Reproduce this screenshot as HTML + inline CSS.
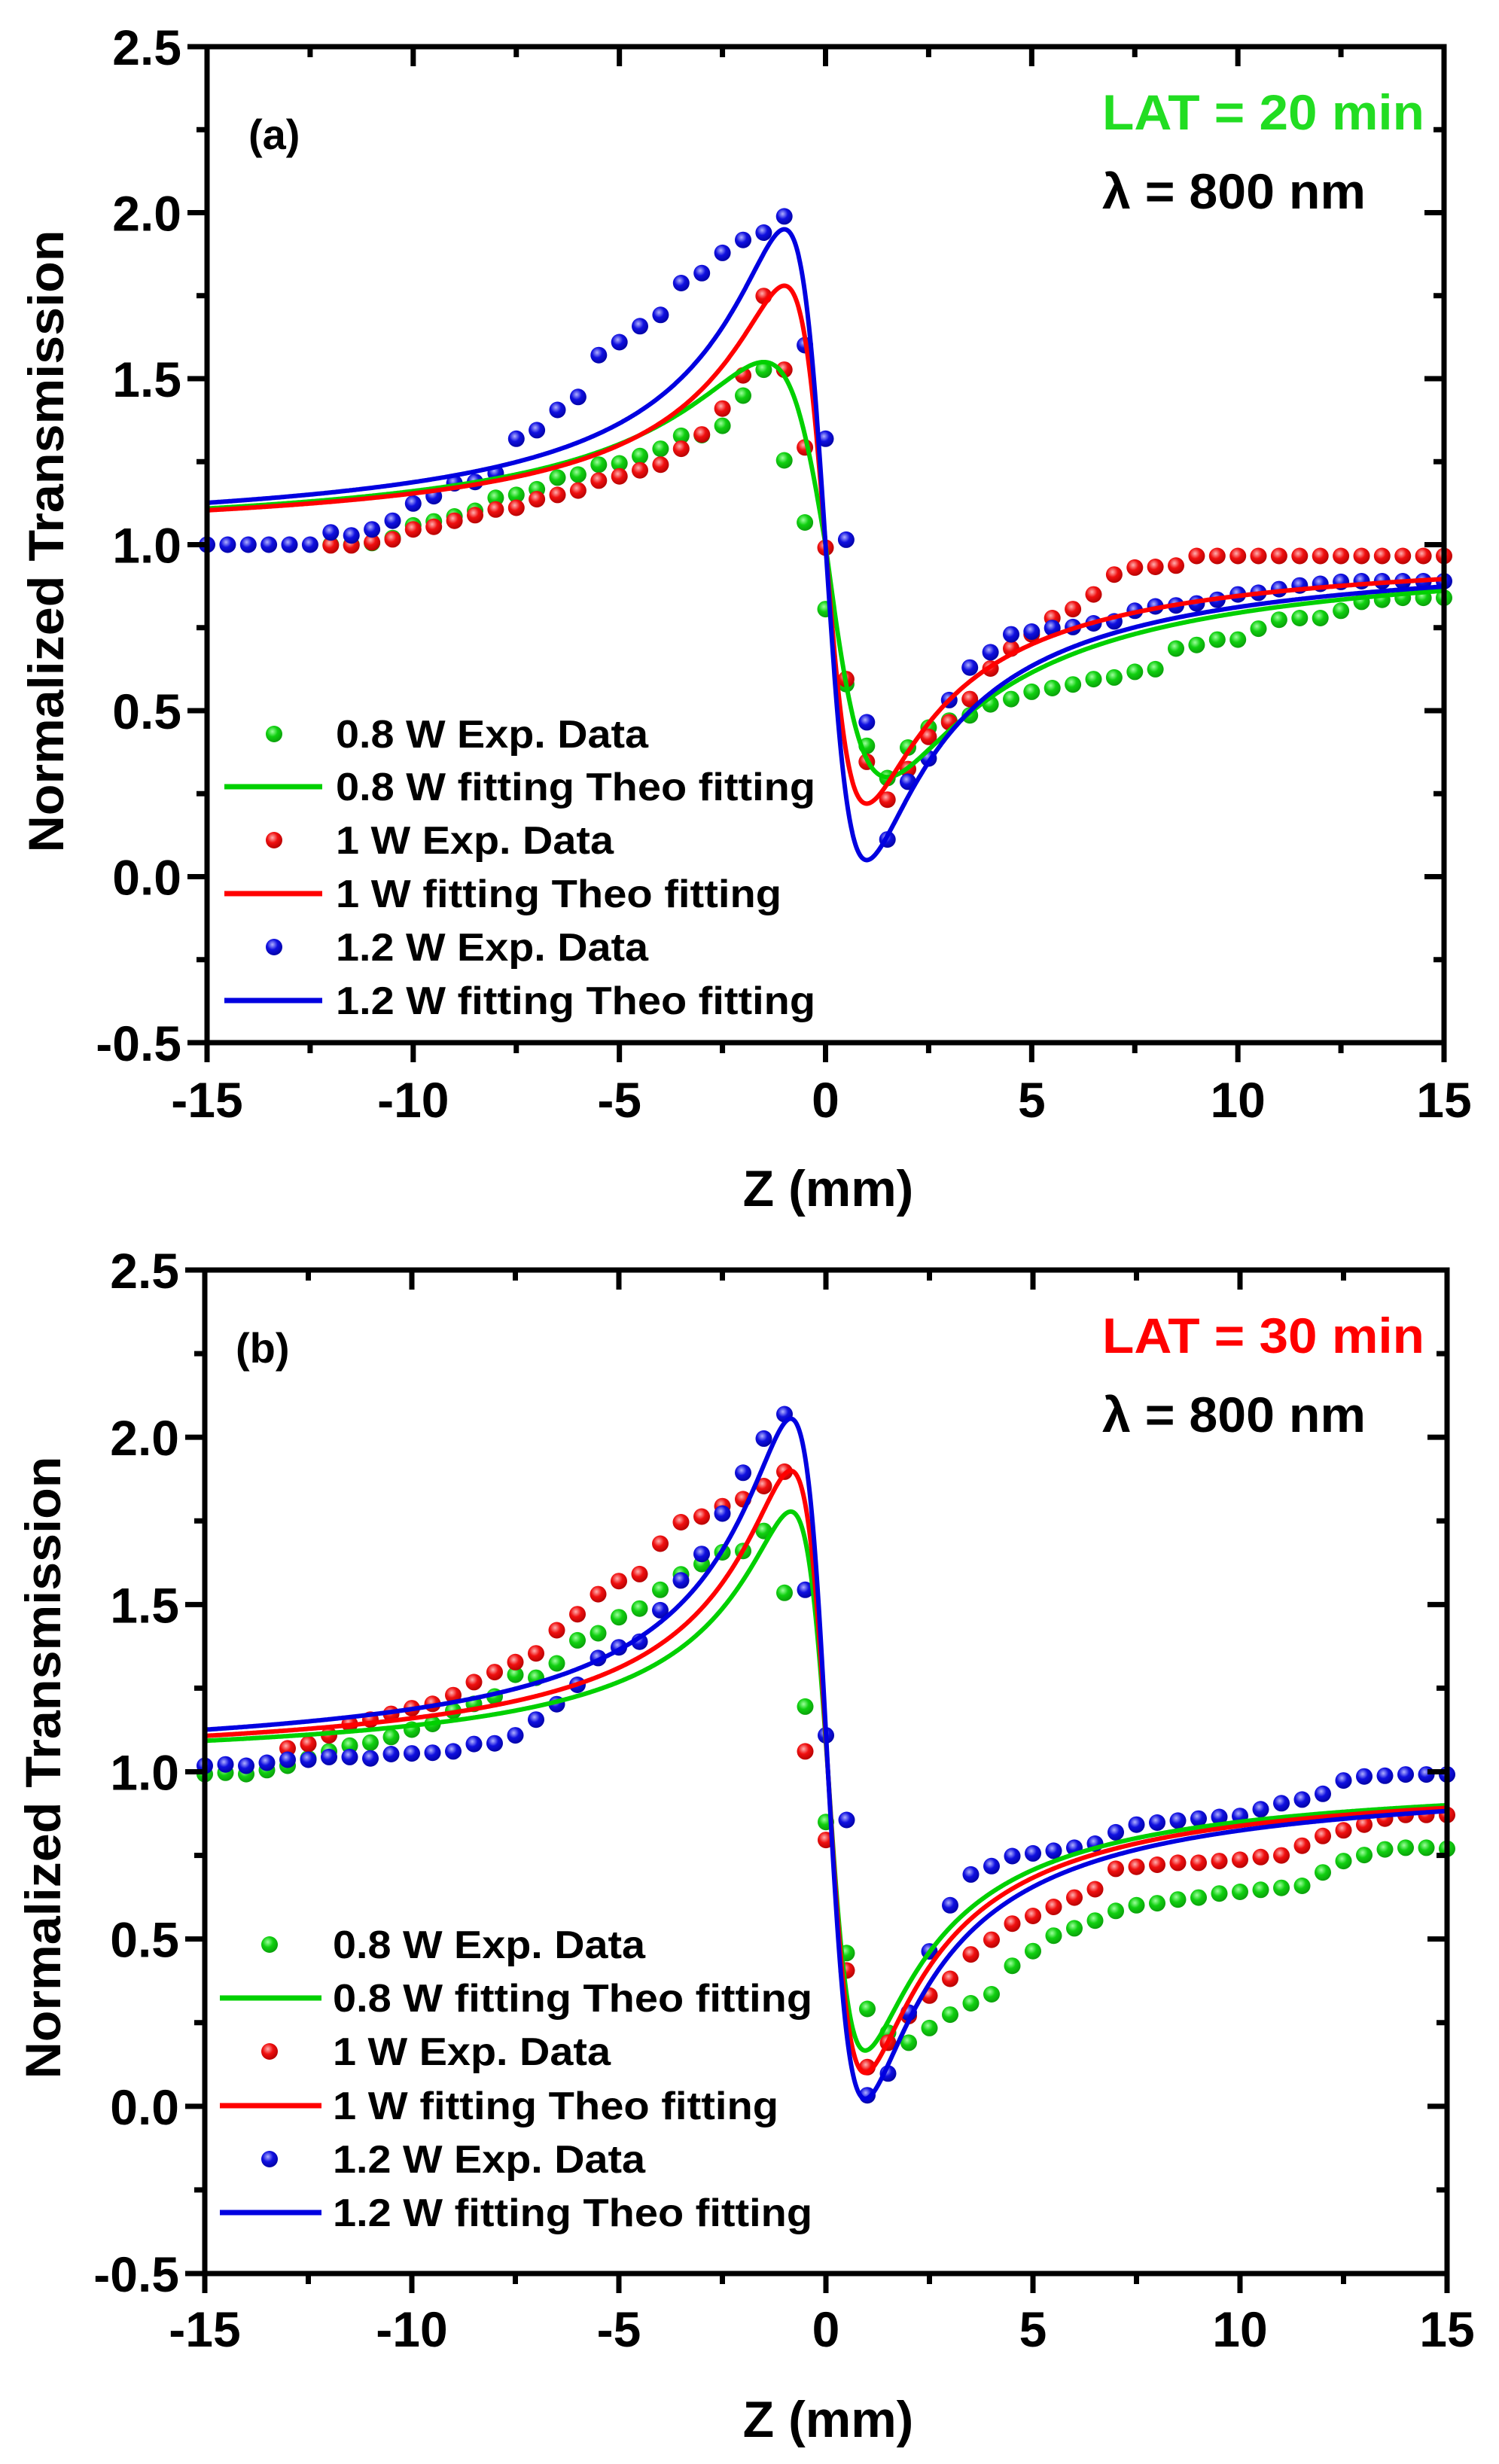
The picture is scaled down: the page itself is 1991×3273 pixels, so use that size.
<!DOCTYPE html>
<html><head><meta charset="utf-8">
<style>
html,body{margin:0;padding:0;background:#fff;}
svg{display:block;}
</style></head>
<body>
<svg id="s" xmlns="http://www.w3.org/2000/svg" width="1991" height="3273" viewBox="0 0 1991 3273">
<defs>
<radialGradient id="gg" cx="0.4" cy="0.35" r="0.7"><stop offset="0" stop-color="#9cff9c"/><stop offset="0.45" stop-color="#10d010"/><stop offset="1" stop-color="#0a9a0a"/></radialGradient>
<radialGradient id="gr" cx="0.4" cy="0.35" r="0.7"><stop offset="0" stop-color="#ffb0b0"/><stop offset="0.45" stop-color="#f01010"/><stop offset="1" stop-color="#b00000"/></radialGradient>
<radialGradient id="gb" cx="0.4" cy="0.35" r="0.7"><stop offset="0" stop-color="#b0b0ff"/><stop offset="0.45" stop-color="#1010e0"/><stop offset="1" stop-color="#0000a0"/></radialGradient>
</defs>
<g id="root"></g>
</svg>
<script>
(function(){
var NS="http://www.w3.org/2000/svg";
var root=document.getElementById("root");
function el(t,a,txt){var e=document.createElementNS(NS,t);for(var k in a)e.setAttribute(k,a[k]);if(txt!==undefined)e.textContent=txt;root.appendChild(e);return e;}
var FN='"Liberation Sans Narrow","Liberation Sans",sans-serif';
var FB='"Liberation Sans",sans-serif';

function panel(P){
  var L=P.L,R=P.R,T=P.T,B=P.B;
  function X(z){return L+(z+15)*(R-L)/30;}
  function Y(v){return T+(2.5-v)*(B-T)/3;}
  var cols={g:["#00d000","url(#gg)"],r:["#ff0000","url(#gr)"],b:["#0000e0","url(#gb)"]};
  ["g","r","b"].forEach(function(k){
    var d=P.data[k];
    for(var i=0;i<d.v.length;i++){
      var v=d.v[i]; if(v===null)continue;
      el("circle",{cx:X(d.s+0.5*i).toFixed(1),cy:Y(v).toFixed(1),r:11,fill:cols[k][1]});
    }
  });
  ["g","r","b"].forEach(function(k){
    var c=P.curve[k],pts=[];
    for(var z=-15;z<=15.001;z+=0.02){
      var u=z-c.c; var a=(u>0&&c.A2)?c.A2:c.A; var v=1-a*u/(u*u+c.w*c.w);
      pts.push(X(z).toFixed(1)+","+Y(v).toFixed(1));
    }
    el("polyline",{points:pts.join(" "),fill:"none",stroke:cols[k][0],"stroke-width":6,"stroke-linejoin":"round"});
  });
  el("rect",{x:L,y:T,width:R-L,height:B-T,fill:"none",stroke:"#000","stroke-width":7});
  for(var z=-15;z<=15;z+=2.5){
    var maj=(z%5===0),len=maj?26:14,x=X(z);
    el("line",{x1:x,y1:B,x2:x,y2:B+len,stroke:"#000","stroke-width":7});
    el("line",{x1:x,y1:T,x2:x,y2:T+len,stroke:"#000","stroke-width":7});
    if(maj) el("text",{x:x,y:P.xlab,"text-anchor":"middle","font-family":FN,"font-weight":"bold","font-size":66},String(z));
  }
  for(var v=-0.5;v<=2.501;v+=0.25){
    var maj=Math.abs(v*2-Math.round(v*2))<1e-6,len=maj?26:14,y=Y(v);
    el("line",{x1:L,y1:y,x2:L-len,y2:y,stroke:"#000","stroke-width":7});
    el("line",{x1:R,y1:y,x2:R-len,y2:y,stroke:"#000","stroke-width":7});
    if(maj) el("text",{x:L-34,y:y+24,"text-anchor":"end","font-family":FN,"font-weight":"bold","font-size":66},v.toFixed(1));
  }
  el("text",{x:1100,y:P.ztitle,"text-anchor":"middle","font-family":FN,"font-weight":"bold","font-size":68},"Z (mm)");
  el("text",{x:0,y:0,transform:"translate("+(P.ytx)+","+P.ytc+") rotate(-90)","text-anchor":"middle","font-family":FB,"font-weight":"bold","font-size":66,textLength:827,lengthAdjust:"spacingAndGlyphs"},"Normalized Transmission");
  el("text",{x:P.lab[0],y:P.lab[1],"font-family":FN,"font-weight":"bold","font-size":56},P.lab[2]);
  el("text",{x:1464,y:T+110,"font-family":FB,"font-weight":"bold","font-size":66,fill:P.latc,textLength:428,lengthAdjust:"spacingAndGlyphs"},P.lat);
  el("text",{x:1464,y:T+215,"font-family":FB,"font-weight":"bold","font-size":66,fill:"#000",textLength:350,lengthAdjust:"spacingAndGlyphs"},"\u03bb = 800 nm");
  var names=["0.8 W Exp. Data","0.8 W fitting Theo fitting","1 W Exp. Data","1 W fitting Theo fitting","1.2 W Exp. Data","1.2 W fitting Theo fitting"];
  var lens=[415,637,369,592,415,637];
  var ks=["g","g","r","r","b","b"];
  for(var i=0;i<6;i++){
    var y=P.leg.y[i];
    if(i%2===0) el("circle",{cx:P.leg.mx,cy:y,r:11,fill:cols[ks[i]][1]});
    else el("line",{x1:P.leg.l1,y1:y,x2:P.leg.l2,y2:y,stroke:cols[ks[i]][0],"stroke-width":7});
    el("text",{x:P.leg.tx,y:y+18,"font-family":FB,"font-weight":"bold","font-size":52,textLength:lens[i],lengthAdjust:"spacingAndGlyphs"},names[i]);
  }
}

var A={L:275,R:1918,T:62,B:1385,xlab:1484,ztitle:1602,ytx:84,ytc:719,lab:[330,198,"(a)"],lat:"LAT = 20 min",latc:"#22dd22",
leg:{y:[975,1045,1116,1187,1258,1329],mx:364,l1:298,l2:428,tx:446},
data:{
 b:{s:-15,v:[1,1,1,1,1,1,1.037,1.028,1.046,1.072,1.124,1.146,1.185,1.189,1.215,1.319,1.345,1.406,1.445,1.571,1.610,1.658,1.692,1.788,1.818,1.879,1.918,1.940,1.989,1.601,1.319,1.015,0.465,0.112,0.286,0.356,0.532,0.630,0.676,0.730,0.738,0.749,0.752,0.763,0.769,0.801,0.814,0.817,0.823,0.834,0.850,0.855,0.866,0.877,0.882,0.888,0.89,0.89,0.89,0.89,0.89]},
 r:{s:-12,v:[0.998,0.998,1.007,1.016,1.046,1.054,1.072,1.089,1.106,1.111,1.137,1.150,1.163,1.193,1.206,1.224,1.241,1.289,1.332,1.410,1.510,1.749,1.527,1.293,0.991,0.595,0.346,0.232,0.324,0.421,0.465,0.535,0.627,0.687,0.73,0.779,0.806,0.85,0.91,0.931,0.933,0.937,0.966,0.966,0.966,0.966,0.966,0.966,0.966,0.966,0.966,0.966,0.966,0.966,0.966]},
 g:{s:-12,v:[1.0,1.0,1.005,1.02,1.058,1.07,1.085,1.102,1.141,1.15,1.167,1.202,1.211,1.241,1.245,1.267,1.289,1.328,1.33,1.358,1.449,1.527,1.254,1.067,0.806,0.58,0.394,0.297,0.389,0.449,0.47,0.486,0.519,0.535,0.557,0.568,0.579,0.595,0.60,0.617,0.625,0.687,0.698,0.714,0.714,0.747,0.774,0.779,0.779,0.801,0.828,0.834,0.84,0.84,0.84]}
},
curve:{g:{c:0,w:1.5,A:1.65,A2:2.1},r:{c:0,w:1.0,A:1.56},b:{c:0,w:1.0,A:1.9}}
};
var Bp={L:272,R:1922,T:1687,B:3020,xlab:3117,ztitle:3237,ytx:80,ytc:2348,lab:[313,1810,"(b)"],lat:"LAT = 30 min",latc:"#ff0000",
leg:{y:[2583,2654,2725,2797,2868,2939],mx:358,l1:292,l2:427,tx:442},
data:{
 g:{s:-15,v:[0.993,0.997,0.993,1.005,1.018,1.04,1.061,1.078,1.087,1.104,1.126,1.143,1.182,1.203,1.225,1.29,1.281,1.324,1.393,1.414,1.462,1.488,1.544,1.59,1.621,1.656,1.66,1.72,1.535,1.195,0.85,0.458,0.291,0.22,0.19,0.234,0.274,0.308,0.335,0.42,0.464,0.51,0.532,0.555,0.584,0.601,0.607,0.618,0.624,0.636,0.641,0.647,0.653,0.659,0.699,0.733,0.751,0.768,0.773,0.773,0.77]},
 r:{s:-13,v:[1.07,1.083,1.109,1.143,1.156,1.173,1.19,1.203,1.229,1.268,1.298,1.328,1.354,1.423,1.471,1.531,1.57,1.591,1.682,1.746,1.763,1.794,1.815,1.854,1.897,1.061,0.796,0.406,0.117,0.19,0.27,0.331,0.381,0.454,0.498,0.546,0.569,0.596,0.624,0.649,0.71,0.716,0.722,0.728,0.728,0.733,0.737,0.745,0.75,0.779,0.808,0.825,0.842,0.86,0.871,0.871,0.871]},
 b:{s:-15,v:[1.018,1.022,1.018,1.027,1.036,1.036,1.044,1.044,1.04,1.053,1.055,1.057,1.061,1.083,1.085,1.109,1.156,1.202,1.26,1.34,1.372,1.389,1.483,1.572,1.651,1.772,1.894,1.996,2.069,1.544,1.109,0.856,0.033,0.098,0.28,0.463,0.601,0.693,0.718,0.748,0.756,0.764,0.773,0.785,0.819,0.842,0.848,0.854,0.86,0.865,0.868,0.888,0.906,0.917,0.934,0.974,0.986,0.988,0.992,0.992,0.992]}
},
curve:{g:{c:0.05,w:0.9,A:1.40,A2:1.5},r:{c:0.05,w:0.9,A:1.62},b:{c:0.05,w:0.9,A:1.9,A2:1.76}}
};
panel(A);panel(Bp);
})();
</script>
</body></html>
